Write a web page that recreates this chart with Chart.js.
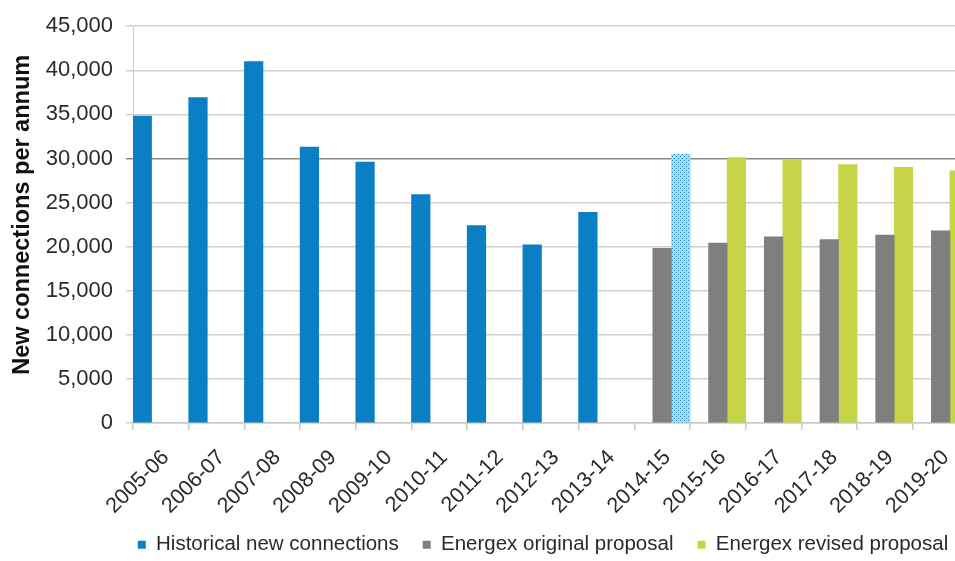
<!DOCTYPE html>
<html>
<head>
<meta charset="utf-8">
<script src="https://cdn.jsdelivr.net/npm/chart.js@4"></script>
<style>
  html, body { margin: 0; padding: 0; background: #ffffff; overflow: hidden; }
  #wrap { position: relative; width: 980px; height: 561px; }
</style>
</head>
<body>
<div id="wrap"><canvas id="chart" width="980" height="561"></canvas></div>
<script>
// Financial years on the category axis
const years = ['2005-06', '2006-07', '2007-08', '2008-09', '2009-10', '2010-11', '2011-12',
  '2012-13', '2013-14', '2014-15', '2015-16', '2016-17', '2017-18', '2018-19', '2019-20'];

// New connections per annum
const historical = [34800, 36900, 41000, 31300, 29600, 25900, 22400, 20200, 23900,
  null, null, null, null, null, null];
const original = [null, null, null, null, null, null, null, null, null,
  19800, 20400, 21100, 20800, 21300, 21800];
// 2014-15 in this series is the estimated year, drawn with a dotted fill
const revised = [null, null, null, null, null, null, null, null, null,
  30500, 30100, 29800, 29300, 29000, 28600];
const estimateYear = '2014-15';

// Value axis
const yMin = 0;
const yMax = 45000;
const yStep = 5000;
const highlightValue = 30000;

const seriesNames = ['Historical new connections', 'Energex original proposal', 'Energex revised proposal'];
const axisTitle = '\u00a0\u00a0\u00a0New connections per annum';

const BLUE = '#0a7fc4';
const GREY = '#7f7f7f';
const GREEN = '#c5d547';
const FONT = '"Liberation Sans", Arial, sans-serif';
const TEXT = '#2a2a2a';

// Dotted light-blue fill for the estimated year
function dottedPattern() {
  const c = document.createElement('canvas');
  c.width = 4; c.height = 4;
  const g = c.getContext('2d');
  g.fillStyle = '#a6d8f2';
  g.fillRect(0, 0, 4, 4);
  g.fillStyle = '#2b93d6';
  g.fillRect(0, 0, 1, 1);
  g.fillRect(2, 2, 1, 1);
  return g.createPattern(c, 'repeat');
}
const dots = dottedPattern();

// Plot frame inside the canvas
const PLOT_LEFT = 133;
const PLOT_BOTTOM = 423;
const LEGEND_CENTER_X = 543;
const LEGEND_SHIFT_Y = 4;
const LABEL_OVERHANG = 20;

const legendPlacement = {
  id: 'legendPlacement',
  afterLayout(chart) {
    const lg = chart.legend;
    if (lg) {
      const dx = LEGEND_CENTER_X - (lg.left + lg.right) / 2;
      lg.left += dx; lg.right += dx;
      lg.top += LEGEND_SHIFT_Y; lg.bottom += LEGEND_SHIFT_Y;
    }
    // let the rotated year labels run a little below the axis box
    chart.scales.x.bottom += LABEL_OVERHANG;
  }
};

new Chart(document.getElementById('chart'), {
  type: 'bar',
  data: {
    labels: years,
    datasets: [
      { label: seriesNames[0], data: historical, backgroundColor: BLUE },
      { label: seriesNames[1], data: original, backgroundColor: GREY },
      {
        label: seriesNames[2], data: revised,
        backgroundColor: (ctx) => (ctx.type === 'data' && years[ctx.dataIndex] === estimateYear) ? dots : GREEN
      }
    ]
  },
  options: {
    responsive: false,
    animation: false,
    devicePixelRatio: 1,
    layout: { padding: { left: 0, right: 11.5, top: 23, bottom: 0 } },
    datasets: { bar: { categoryPercentage: 1.0, barPercentage: 1.0 } },
    scales: {
      x: {
        offset: true,
        grid: {
          offset: true,
          drawOnChartArea: false,
          drawTicks: true,
          tickLength: 7,
          color: '#c8c8c8',
          lineWidth: 1.5
        },
        border: { display: true, color: '#c8c8c8', width: 1.5 },
        ticks: {
          autoSkip: false,
          maxRotation: 45,
          minRotation: 45,
          padding: 15,
          labelOffset: 5,
          color: TEXT,
          font: { family: FONT, size: 21.5 }
        },
        afterFit(scale) {
          const lg = scale.chart.legend;
          scale.height = scale.chart.height - PLOT_BOTTOM - (lg ? lg.height : 0);
        }
      },
      y: {
        min: yMin,
        max: yMax,
        ticks: {
          stepSize: yStep,
          padding: 13,
          color: TEXT,
          font: { family: FONT, size: 22 },
          callback: (v) => Number(v).toLocaleString('en-US')
        },
        grid: {
          drawTicks: true,
          tickLength: 7,
          lineWidth: 1.5,
          color: (ctx) => (ctx.tick && ctx.tick.value === highlightValue) ? '#8a8a8a' : '#cfcfcf'
        },
        border: { display: true, color: '#cfcfcf', width: 1 },
        title: {
          display: true,
          text: axisTitle,
          color: '#111111',
          padding: { top: 8, bottom: 0 },
          font: { family: FONT, size: 23.5, weight: 'bold' }
        },
        afterFit(scale) { scale.width = PLOT_LEFT; }
      }
    },
    plugins: {
      legend: {
        position: 'bottom',
        labels: {
          boxWidth: 8,
          boxHeight: 8,
          padding: 24,
          color: TEXT,
          font: { family: FONT, size: 20.5 }
        }
      },
      tooltip: { enabled: false }
    }
  },
  plugins: [legendPlacement]
});
</script>
</body>
</html>
